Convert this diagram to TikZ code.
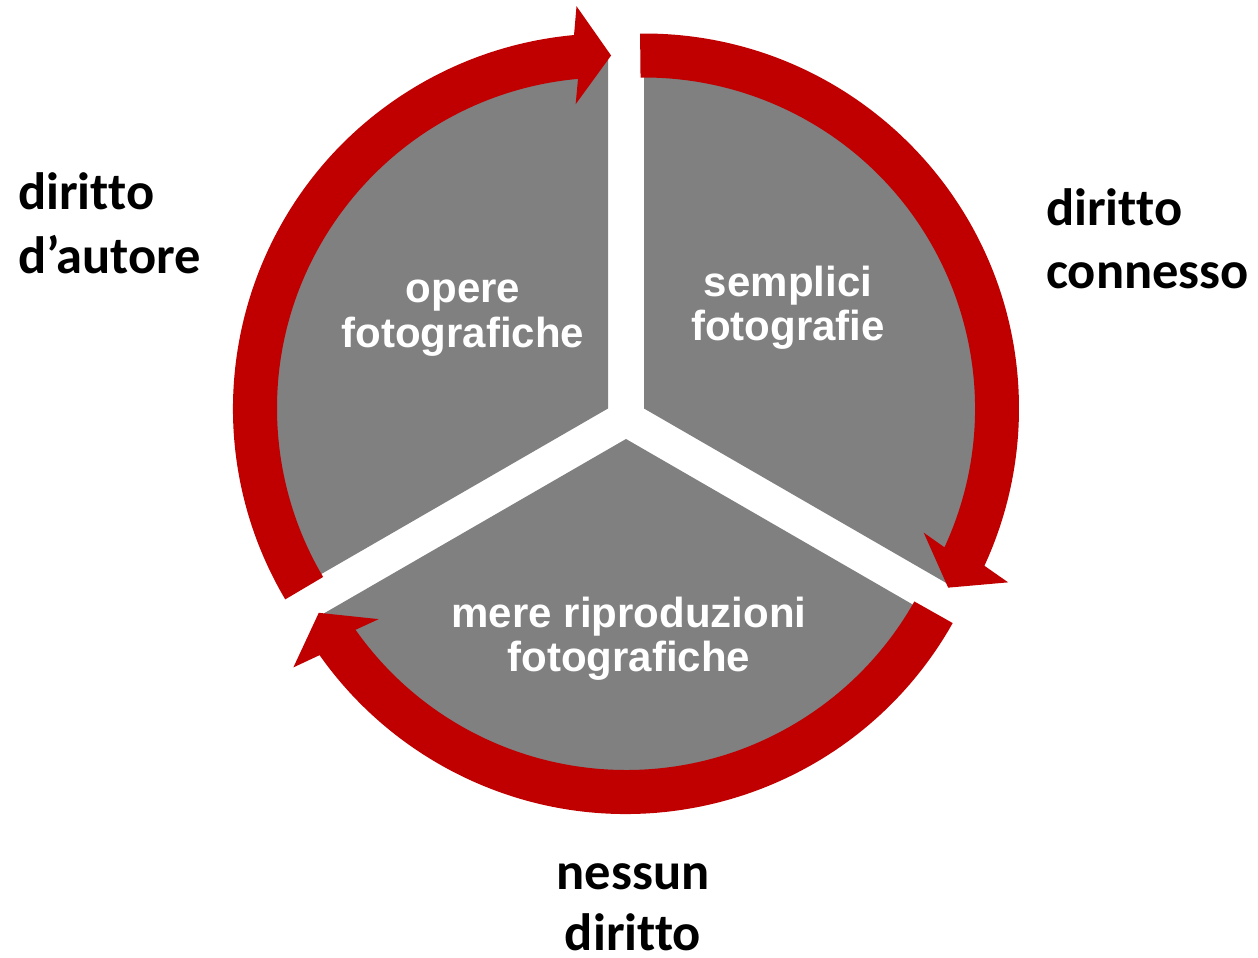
\documentclass[tikz,border=0pt]{standalone}
\usepackage{fontspec}
\setmainfont{Liberation Sans}
\newfontfamily\calibrifont[Ligatures=NoCommon]{Carlito}
\usetikzlibrary{calc}
\definecolor{arrowred}{HTML}{C00000}
\definecolor{sectorgrey}{HTML}{808080}
\tikzset{
  sectorfill/.style={fill=sectorgrey},
  arrowfill/.style={fill=arrowred},
  innerlabel/.style={text=white, inner sep=0pt, anchor=base, font=\bfseries\fontsize{42}{44}\selectfont},
  outerlabel/.style={text=black, inner sep=0pt, font=\calibrifont\bfseries\fontsize{52.5}{63}\selectfont}
}
% #1 centre, #2 tail angle, #3 tip angle
\newcommand\cycarrow[3]{%
  \pgfmathsetmacro\bang{#3+5.7}%
  \pgfmathsetmacro\tplus{#3+90}%
  \pgfmathsetmacro\tback{#3+180}%
  \fill[arrowfill] ($(#1)+(#2:375pt)$) arc[start angle=#2, end angle=\bang, radius=375pt]
    -- ($(#1)+(#3:353pt)+(\tplus:35pt)+(#3:49pt)$)
    -- ($(#1)+(#3:353pt)$)
    -- ($(#1)+(#3:353pt)+(\tplus:35pt)+(\tback:49pt)$)
    -- ($(#1)+(\bang:331pt)$) arc[start angle=\bang, end angle=#2, radius=331pt] -- cycle;
}
\begin{document}
\begin{tikzpicture}[x=1pt,y=1pt]
\useasboundingbox (0,0) rectangle (1258,958);
\fill[white] (0,0) rectangle (1258,958);
\coordinate (V1) at (608,549.5);
\coordinate (V2) at (644,549.5);
\coordinate (V3) at (626,519);
% sectors
\fill[sectorfill] (V1) -- ($(V1)+(90:349pt)$) arc[start angle=90, end angle=210, radius=349pt] -- cycle;
\fill[sectorfill] (V2) -- ($(V2)+(-30:349pt)$) arc[start angle=-30, end angle=90, radius=349pt] -- cycle;
\fill[sectorfill] (V3) -- ($(V3)+(210:349pt)$) arc[start angle=210, end angle=330, radius=349pt] -- cycle;
% arrows
\cycarrow{V1}{210.6}{89.5}
\cycarrow{V2}{90.6}{-30.5}
\cycarrow{V3}{330.6}{209.5}
% inner texts
\node[innerlabel] (op1) at (463,655) {opere};
\node[innerlabel] (op2) at (463,610) {fotografiche};
\node[innerlabel] (se1) at (788,661) {semplici};
\node[innerlabel] (se2) at (788,617) {fotografie};
\node[innerlabel] (me1) at (629,330) {mere riproduzioni};
\node[innerlabel] (me2) at (629,286) {fotografiche};
% outer labels
\node[outerlabel, anchor=base west] (da1) at (18,748) {diritto};
\node[outerlabel, anchor=base west] (da2) at (18,684) {d’autore};
\node[outerlabel, anchor=base west] (dc1) at (1046,732) {diritto};
\node[outerlabel, anchor=base west] (dc2) at (1046,669) {connesso};
\node[outerlabel, anchor=base] (nd1) at (633,68) {nessun};
\node[outerlabel, anchor=base, text depth=0pt] (nd2) at (633,7) {diritto};
\end{tikzpicture}
\end{document}
